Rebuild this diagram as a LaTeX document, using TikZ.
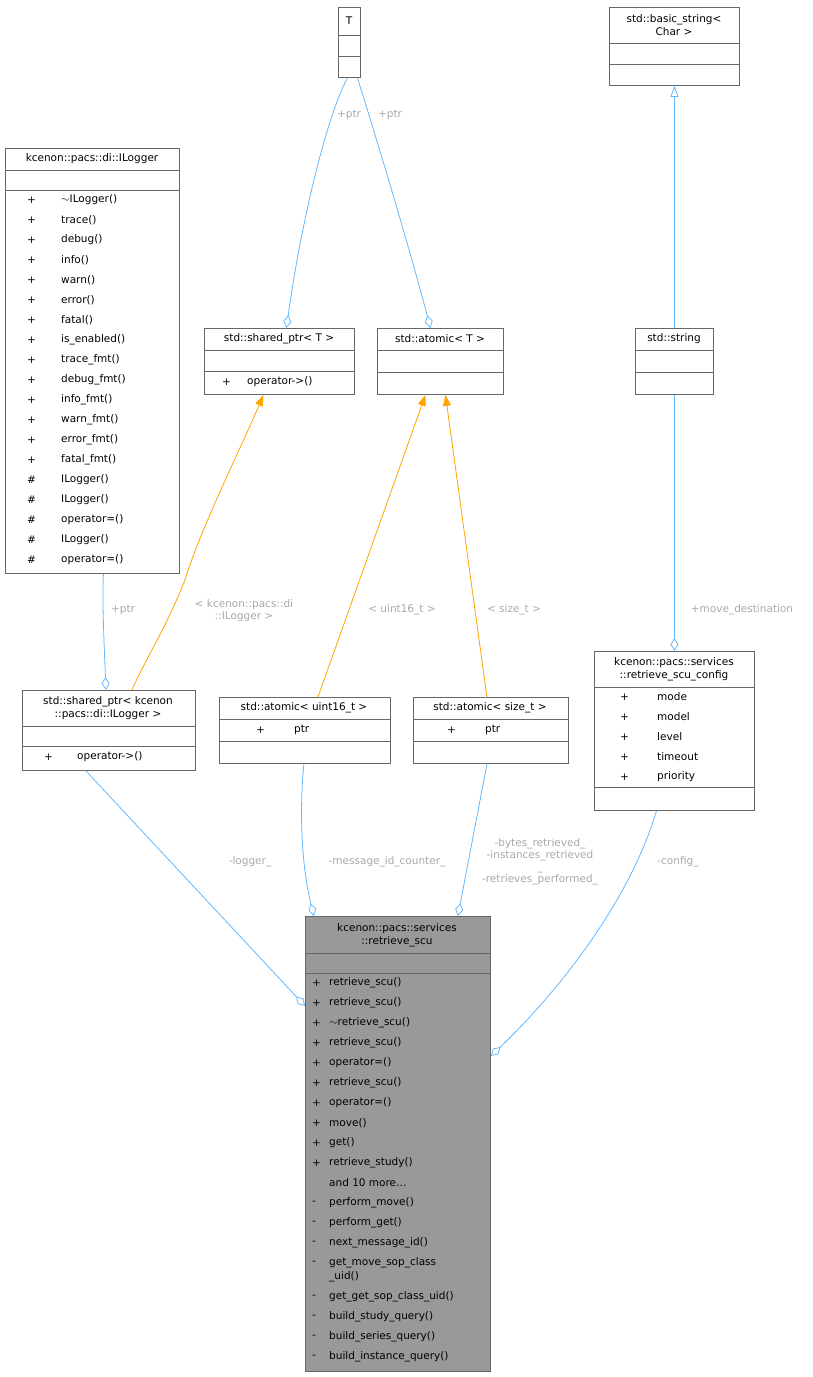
\documentclass[tikz,border=0pt]{standalone}
\usepackage{fontspec}
\setmainfont{DejaVu Sans}
\usetikzlibrary{calc,arrows.meta}
\definecolor{boxc}{HTML}{666666}
\definecolor{edgeb}{HTML}{63B8FF}
\definecolor{edgeo}{HTML}{FFA500}
\definecolor{labc}{HTML}{A8A8A8}
\definecolor{mainf}{HTML}{999999}
\tikzset{
  cls/.style={draw=boxc, fill=white, anchor=north west, inner sep=0pt, line width=0.9pt},
  ttl/.style={font=\fontsize{10.5}{12.5}\selectfont, align=center, inner sep=0pt},
  mem/.style={font=\fontsize{10.5}{12.5}\selectfont, anchor=west, inner sep=0pt},
  lab/.style={font=\fontsize{10.5}{12}\selectfont, text=labc, align=center, inner sep=0pt},
  agg/.style={draw=edgeb, line width=0.8pt, {Diamond[open,length=13pt,width=8pt]}-},
  inh/.style={draw=edgeb, line width=0.8pt, {Triangle[open,length=11pt,width=8pt]}-},
  tpl/.style={draw=edgeo, line width=0.8pt, {Triangle[length=11pt,width=8pt]}-},
}
\newcommand{\sepline}[3]{\draw[boxc, line width=0.9pt] (#1,#2) -- ++(#3,0);}
\begin{document}
\begin{tikzpicture}[x=1pt,y=-1pt]
\useasboundingbox (0,0) rectangle (813,1377);

% T
\node[cls, minimum width=22pt, minimum height=70pt] (T) at (338,7) {};
\sepline{338}{35}{22} \sepline{338}{56}{22}
\node[ttl] at (349,21) {T};

% std::basic_string< Char >
\node[cls, minimum width=130pt, minimum height=78pt] (bstr) at (609,7) {};
\sepline{609}{43}{130} \sepline{609}{64}{130}
\node[ttl] at (674,25) {std::basic\_string<\\Char >};

% ILogger
\node[cls, minimum width=174pt, minimum height=425pt] (ilog) at (5,148) {};
\sepline{5}{170}{174} \sepline{5}{190}{174}
\node[ttl] at (92,159) {kcenon::pacs::di::ILogger};
\foreach \s/\m [count=\i] in {+/$\sim$ILogger(), +/trace(), +/debug(), +/info(), +/warn(),
  +/error(), +/fatal(), +/is\_enabled(), +/trace\_fmt(), +/debug\_fmt(), +/info\_fmt(),
  +/warn\_fmt(), +/error\_fmt(), +/fatal\_fmt(), \#/ILogger(), \#/ILogger(),
  \#/operator=(), \#/ILogger(), \#/operator=()} {
  \node[mem] at (27,{180+20*\i}) {\s};
  \node[mem] at (61,{180+20*\i}) {\m};
}

% std::shared_ptr< T >
\node[cls, minimum width=150pt, minimum height=66pt] (spT) at (204,328) {};
\sepline{204}{350}{150} \sepline{204}{371}{150}
\node[ttl] at (279,339) {std::shared\_ptr< T >};
\node[mem] at (222,382) {+}; \node[mem] at (247,382) {operator->()};

% std::atomic< T >
\node[cls, minimum width=126pt, minimum height=66pt] (atT) at (377,328) {};
\sepline{377}{350}{126} \sepline{377}{372}{126}
\node[ttl] at (440,339) {std::atomic< T >};

% std::string
\node[cls, minimum width=78pt, minimum height=66pt] (str) at (635,328) {};
\sepline{635}{350}{78} \sepline{635}{372}{78}
\node[ttl] at (674,339) {std::string};

% std::shared_ptr< kcenon::pacs::di::ILogger >
\node[cls, minimum width=173pt, minimum height=80pt] (spL) at (22,690) {};
\sepline{22}{726}{173} \sepline{22}{746}{173}
\node[ttl] at (108,708) {std::shared\_ptr< kcenon\\::pacs::di::ILogger >};
\node[mem] at (44,757) {+}; \node[mem] at (77,757) {operator->()};

% std::atomic< uint16_t >
\node[cls, minimum width=171pt, minimum height=66pt] (atU) at (219,697) {};
\sepline{219}{719}{171} \sepline{219}{741}{171}
\node[ttl] at (304,708) {std::atomic< uint16\_t >};
\node[mem] at (256,730) {+}; \node[mem] at (294,730) {ptr};

% std::atomic< size_t >
\node[cls, minimum width=155pt, minimum height=66pt] (atS) at (413,697) {};
\sepline{413}{719}{155} \sepline{413}{741}{155}
\node[ttl] at (490,708) {std::atomic< size\_t >};
\node[mem] at (447,730) {+}; \node[mem] at (485,730) {ptr};

% retrieve_scu_config
\node[cls, minimum width=160pt, minimum height=159pt] (cfg) at (594,651) {};
\sepline{594}{687}{160} \sepline{594}{787}{160}
\node[ttl] at (674,669) {kcenon::pacs::services\\::retrieve\_scu\_config};
\foreach \m [count=\i] in {mode, model, level, timeout, priority} {
  \node[mem] at (620,{677+20*\i}) {+};
  \node[mem] at (657,{677+20*\i}) {\m};
}

% retrieve_scu
\node[cls, fill=mainf, minimum width=185pt, minimum height=455pt] (scu) at (305,916) {};
\sepline{305}{953}{185} \sepline{305}{973}{185}
\node[ttl] at (397,935) {kcenon::pacs::services\\::retrieve\_scu};
\foreach \s/\m [count=\i] in {+/retrieve\_scu(), +/retrieve\_scu(), +/$\sim$retrieve\_scu(),
  +/retrieve\_scu(), +/operator=(), +/retrieve\_scu(), +/operator=(), +/move(), +/get(),
  +/retrieve\_study(), {}/{and 10 more\ldots}, -/perform\_move(), -/perform\_get(),
  -/next\_message\_id(), -/get\_move\_sop\_class} {
  \node[mem] at (312,{963+20*\i}) {\s};
  \node[mem] at (329,{963+20*\i}) {\m};
}
\node[mem] at (329,1277) {\_uid()};
\foreach \m [count=\i] in {get\_get\_sop\_class\_uid(), build\_study\_query(),
  build\_series\_query(), build\_instance\_query()} {
  \node[mem] at (312,{1277+20*\i}) {-};
  \node[mem] at (329,{1277+20*\i}) {\m};
}

% connectors
\draw[agg] ([xshift=7pt]spT.north) .. controls (300,230) and (325,120) .. ([xshift=-2pt]T.south);
\node[lab] (l1) at (349,115) {+ptr};
\draw[agg] ([xshift=-10pt]atT.north) .. controls (410,250) and (380,150) .. ([xshift=8pt]T.south);
\node[lab] (l2) at (390,115) {+ptr};
\draw[inh] (bstr.south) -- (str.north);
\draw[agg] (cfg.north) -- (str.south);
\node[lab] (l3) at (742,610) {+move\_destination};
\draw[agg] ([xshift=-3pt]spL.north) .. controls (104,640) and (102,600) .. ([xshift=11pt]ilog.south);
\node[lab] (l4) at (123,610) {+ptr};
\draw[tpl] ([xshift=-16pt]spT.south) .. controls (240,450) and (200,530) .. (185,580)
  .. controls (165,630) and (145,660) .. ([xshift=23pt]spL.north);
\node[lab] (l5) at (244,611) {< kcenon::pacs::di\\::ILogger >};
\draw[tpl] ([xshift=-15pt]atT.south) -- ([xshift=13pt]atU.north);
\node[lab] (l6) at (402,610) {< uint16\_t >};
\draw[tpl] ([xshift=5pt]atT.south) -- ([xshift=-4pt]atS.north);
\node[lab] (l7) at (514,610) {< size\_t >};
\draw[agg] ([yshift=138pt]scu.west) -- ([xshift=-23pt]spL.south);
\node[lab] (l8) at (250,862) {-logger\_};
\draw[agg] ([xshift=-84pt]scu.north) .. controls (300,860) and (300,800) .. ([xshift=-1pt]atU.south);
\node[lab] (l9) at (387,862) {-message\_id\_counter\_};
\draw[agg] ([xshift=60pt]scu.north) -- ([xshift=-4pt]atS.south);
\node[lab] (l10) at (540,862) {-bytes\_retrieved\_\\-instances\_retrieved\\\_\\-retrieves\_performed\_};
\draw[agg] ([yshift=88pt]scu.east) .. controls (560,990) and (630,900) .. ([xshift=-18pt]cfg.south);
\node[lab] (l11) at (678,862) {-config\_};
\end{tikzpicture}
\end{document}
